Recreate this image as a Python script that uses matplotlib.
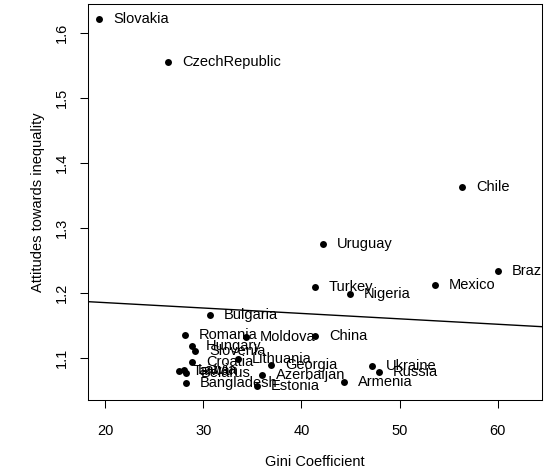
import matplotlib
matplotlib.use('Agg')
import matplotlib.pyplot as plt

countries = ["Slovakia", "CzechRepublic", "Chile", "Uruguay", "Brazil", "Turkey",
             "Nigeria", "Mexico", "Bulgaria", "Romania", "Moldova", "China",
             "Hungary", "Slovenia", "Lithuania", "Croatia", "Georgia", "Ukraine",
             "Russia", "Taiwan", "Latvia", "Belarus", "Azerbaijan", "Armenia",
             "Bangladesh", "Estonia"]
gini = [19.4, 26.45, 56.4, 42.2, 60.05, 41.4,
        44.95, 53.6, 30.7, 28.15, 34.35, 41.4,
        28.85, 29.2, 33.55, 28.9, 36.95, 47.2,
        47.9, 27.55, 28.05, 28.3, 35.95, 44.35,
        28.2, 35.45]
attitude = [1.622, 1.556, 1.364, 1.276, 1.235, 1.209,
            1.1985, 1.213, 1.167, 1.136, 1.132, 1.135,
            1.119, 1.111, 1.099, 1.095, 1.090, 1.088,
            1.079, 1.080, 1.082, 1.077, 1.074, 1.064,
            1.0625, 1.058]

fit_intercept = 1.2023
fit_slope = -0.000833

xticks = [20, 30, 40, 50, 60]
yticks = [1.1, 1.2, 1.3, 1.4, 1.5, 1.6]

plt.rcParams['font.family'] = ['Liberation Sans', 'DejaVu Sans']
FS = 10.5

fig = plt.figure(figsize=(5.46, 4.69), dpi=100)
ax = fig.add_axes([88 / 546, 69 / 469, 454 / 546, 396 / 469])

ax.scatter(gini, attitude, s=25, c='black', linewidths=0, zorder=3)
for name, x, y in zip(countries, gini, attitude):
    ax.annotate(name, (x, y), xytext=(10, 0), textcoords='offset points',
                va='center', ha='left', fontsize=FS, clip_on=True, zorder=4)

ax.axline((0, fit_intercept), slope=fit_slope, color='black', lw=1.0)

ax.set_xlim(18.27, 64.5)
ax.set_ylim(1.0358, 1.645)
ax.set_xticks(xticks)
ax.set_xticklabels([str(t) for t in xticks])
ax.set_yticks(yticks)
ax.set_yticklabels([f"{t:.1f}" for t in yticks], rotation=90, va='center')

for s in ax.spines.values():
    s.set_linewidth(0.75)
    s.set_color('black')

ax.tick_params(axis='both', direction='out', length=6, width=0.75, labelsize=FS)
ax.tick_params(axis='x', pad=11)
ax.tick_params(axis='y', pad=8)

ax.set_xlabel('Gini Coefficient', fontsize=FS)
ax.xaxis.label.set_va('center')
ax.xaxis.set_label_coords(0.5, -0.1558)
ax.set_ylabel('Attitudes towards inequality', fontsize=FS)
ax.yaxis.label.set_va('center')
ax.yaxis.set_label_coords(-0.110, 0.5)

fig.savefig('out.png', dpi=100)
